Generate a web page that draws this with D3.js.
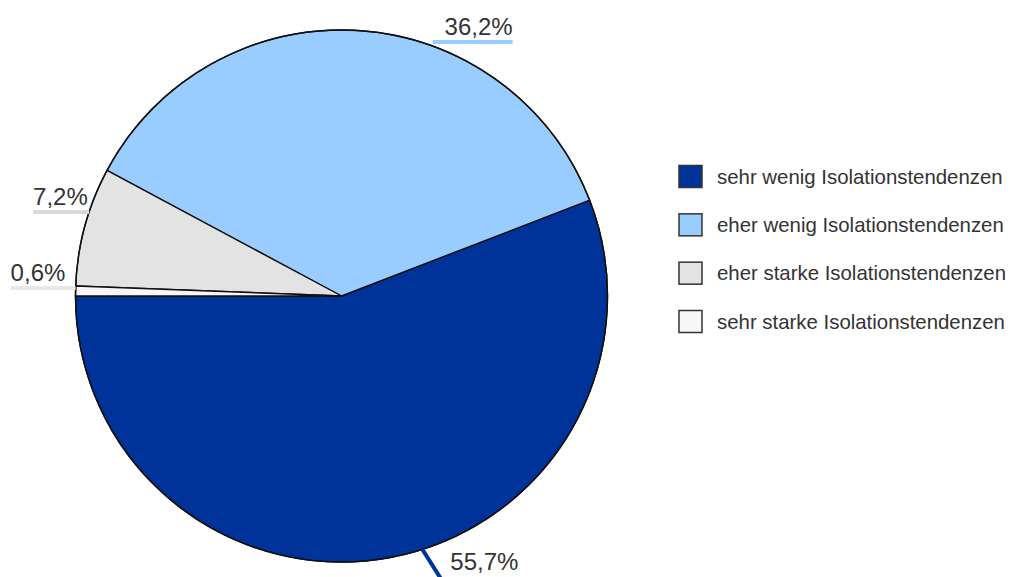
<!DOCTYPE html>
<html>
<head>
<meta charset="utf-8">
<script src="https://cdn.jsdelivr.net/npm/d3@7"></script>
<style>
  html, body { margin: 0; padding: 0; background: #fff; }
  svg { display: block; }
  text { font-family: "Liberation Sans", Arial, sans-serif; }
</style>
</head>
<body>
<svg id="chart" width="1021" height="577"></svg>
<script>
// ---- data ----
const categories = [
  "sehr wenig Isolationstendenzen",
  "eher wenig Isolationstendenzen",
  "eher starke Isolationstendenzen",
  "sehr starke Isolationstendenzen"
];
const values = [55.7, 36.2, 7.2, 0.6];
const valueLabels = ["55,7%", "36,2%", "7,2%", "0,6%"];

// ---- style / layout ----
const colors = ["#003399", "#99ccff", "#e3e3e3", "#f7f7f7"];
const leaderColors = ["#003399", "#99ccff", "#d9d9d9", "#e8e8e8"];
// angle (deg, clockwise from 12 o'clock) where each label's leader touches the pie
const labelAngles = [162.3, 17.3, -71.6, -88.3];
const labelGap = [0, 12, 0, 0];
const underlineLen = [76, 80, 56, 65];

const W = 1021, H = 577;
const cx = 341.5, cy = 296, R = 266;

const svg = d3.select("#chart");
const g = svg.append("g").attr("transform", `translate(${cx},${cy})`);

const pie = d3.pie()
  .sort(null)
  .value(d => d)
  .startAngle(-Math.PI / 2)
  .endAngle(-Math.PI / 2 - 2 * Math.PI);

const arc = d3.arc().innerRadius(0).outerRadius(R);
const arcs = pie(values);

g.selectAll("path.slice")
  .data(arcs)
  .enter().append("path")
  .attr("class", "slice")
  .attr("d", arc)
  .attr("fill", (d, i) => colors[i])
  .attr("stroke", "#111")
  .attr("stroke-width", 1.4)
  .attr("stroke-linejoin", "round");

// ---- labels with leaders ----
const labelG = svg.append("g");
values.forEach((v, i) => {
  const a = labelAngles[i] * Math.PI / 180;
  const ex = cx + Math.sin(a) * R;
  const ey = cy - Math.cos(a) * R;
  const right = Math.sin(a) >= 0;
  if (Math.cos(a) < -0.5) {
    // bottom label: slanted leader then horizontal (runs below the frame)
    const drop = 38, dx = 24;
    const kx = ex + dx, ky = ey + drop;
    const endX = kx + underlineLen[i];
    labelG.append("path")
      .attr("d", d3.line()([[ex, ey], [kx, ky], [endX, ky]]))
      .attr("fill", "none")
      .attr("stroke", leaderColors[i])
      .attr("stroke-width", 4);
    labelG.append("text")
      .attr("x", endX - 4)
      .attr("y", ey + 21)
      .attr("text-anchor", "end")
      .attr("font-size", 24)
      .attr("fill", "#333")
      .text(valueLabels[i]);
  } else {
    const sx = right ? ex + labelGap[i] : ex - labelGap[i];
    const endX = right ? sx + underlineLen[i] : sx - underlineLen[i];
    labelG.append("line")
      .attr("x1", sx).attr("y1", ey)
      .attr("x2", endX).attr("y2", ey)
      .attr("stroke", leaderColors[i])
      .attr("stroke-width", 4);
    labelG.append("text")
      .attr("x", endX)
      .attr("y", ey - 7)
      .attr("text-anchor", right ? "end" : "start")
      .attr("font-size", 24)
      .attr("fill", "#333")
      .text(valueLabels[i]);
  }
});
// redraw pie outline above the leader stubs
g.append("circle").attr("r", R).attr("fill", "none").attr("stroke", "#111").attr("stroke-width", 1.4);

// ---- legend ----
const legendY = d3.scalePoint().domain(categories).range([176.5, 321.5]);
const legend = svg.append("g");
const items = legend.selectAll("g.item")
  .data(categories)
  .enter().append("g")
  .attr("class", "item")
  .attr("transform", d => `translate(679,${legendY(d)})`);
items.append("rect")
  .attr("x", 0).attr("y", -11)
  .attr("width", 23).attr("height", 22)
  .attr("fill", (d, i) => colors[i])
  .attr("stroke", "#333")
  .attr("stroke-width", 1.5);
items.append("text")
  .attr("x", 38).attr("y", 7)
  .attr("font-size", 20.4)
  .attr("fill", "#333")
  .text(d => d);
</script>
</body>
</html>
